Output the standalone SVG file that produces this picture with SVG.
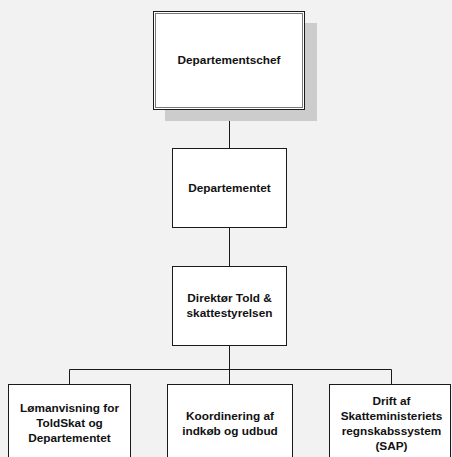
<svg xmlns="http://www.w3.org/2000/svg" width="452" height="457" viewBox="0 0 452 457">
<style>
.box{fill:#ffffff;stroke:#1a1a1a;stroke-width:1}
.inner{fill:none;stroke:#777777;stroke-width:1}
.shadow{fill:#cccccc;stroke:none}
.conn{fill:none;stroke:#1a1a1a;stroke-width:1}
text{font-family:"Liberation Sans",Arial,sans-serif;font-weight:bold;font-size:11.8px;fill:#111111;text-anchor:middle}
</style>
<rect x="0" y="0" width="452" height="457" fill="#f2f2f2"/>
<g id="connectors">
<line class="conn" x1="229.5" y1="109" x2="229.5" y2="148"/>
<line class="conn" x1="229.5" y1="227" x2="229.5" y2="266"/>
<line class="conn" x1="229.5" y1="345" x2="229.5" y2="384"/>
<polyline class="conn" points="69.5,384 69.5,369.5 391.5,369.5 391.5,384"/>
</g>
<g id="departementschef">
<rect class="shadow" x="165" y="23" width="152" height="98"/>
<rect class="box" x="153.5" y="11.5" width="151" height="98"/>
<rect class="inner" x="155.5" y="13.5" width="147" height="94"/>
<text x="229" y="64">Departementschef</text>
</g>
<g id="departementet">
<rect class="box" x="172.5" y="148.5" width="114" height="79"/>
<text x="229.5" y="191.5">Departementet</text>
</g>
<g id="direktoer">
<rect class="box" x="172.5" y="266.5" width="114" height="79"/>
<text x="229.5" y="302">Direktør Told &amp;</text>
<text x="229.5" y="317">skattestyrelsen</text>
</g>
<g id="loenanvisning">
<rect class="box" x="8.5" y="384.5" width="122" height="79"/>
<text x="69.5" y="412">Lømanvisning for</text>
<text x="69.5" y="427">ToldSkat og</text>
<text x="69.5" y="442">Departementet</text>
</g>
<g id="koordinering">
<rect class="box" x="167.5" y="384.5" width="125" height="79"/>
<text x="230" y="420">Koordinering af</text>
<text x="230" y="435">indkøb og udbud</text>
</g>
<g id="drift">
<rect class="box" x="329.5" y="384.5" width="121" height="79"/>
<text x="391.5" y="405">Drift af</text>
<text x="391.5" y="420">Skatteministeriets</text>
<text x="391.5" y="435">regnskabssystem</text>
<text x="391.5" y="450">(SAP)</text>
</g>
</svg>
